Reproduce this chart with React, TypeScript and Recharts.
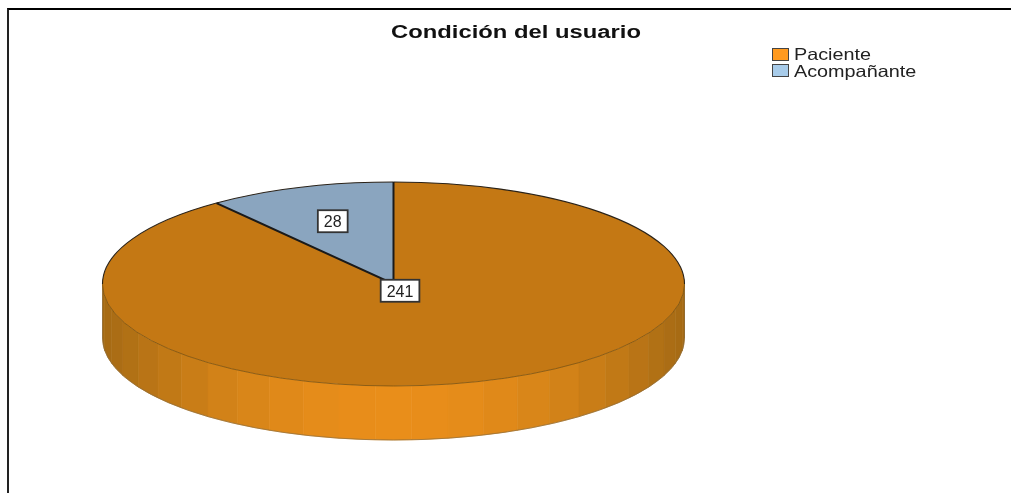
import React from 'react';
import { PieChart, Pie, Legend } from 'recharts';

const categories = ['Paciente', 'Acompañante'];
const counts = [241, 28];
const chartTitle = 'Condición del usuario';

const topColors = ['#C47814', '#8AA5BF'];
const legendColors = ['#FF9A1F', '#A8CCEA'];
// how far along the radius each value box sits
const labelOffsets = [0.07, 0.65];

const chartData = categories.map((name, i) => ({ name, value: counts[i], fill: topColors[i] }));

const RX = 291;
const RY = 102;
const DEPTH = 54;
const FACET = 7.2;
const RAD = Math.PI / 180;

function wallColor(deg: number) {
  // brightest at the front, darker towards the two sides
  const t = Math.cos(deg * RAD) ** 2;
  const r = Math.round(233 - t * 68);
  const g = Math.round(142 - t * 36);
  const b = Math.round(26 - t * 6);
  return `rgb(${r},${g},${b})`;
}

function Slice(props: any) {
  const { cx, cy, startAngle, endAngle, index } = props;
  const lo = Math.min(startAngle, endAngle);
  const hi = Math.max(startAngle, endAngle);
  const pt = (deg: number, dy = 0) => [cx + RX * Math.cos(deg * RAD), cy - RY * Math.sin(deg * RAD) + dy];

  const arc = (from: number, to: number, dy: number, sweep: number) => {
    const [x, y] = pt(to, dy);
    return `A${RX},${RY} 0 ${Math.abs(to - from) > 180 ? 1 : 0} ${sweep} ${x},${y}`;
  };

  // side wall is only visible on the lower half of the ellipse (-180..0)
  const facets = [];
  const wallFrom = Math.max(lo, -180);
  const wallTo = Math.min(hi, 0);
  for (let a = -180; a < 0; a += FACET) {
    const from = Math.max(a, wallFrom);
    const to = Math.min(a + FACET, wallTo);
    if (to <= from) continue;
    const [x0, y0] = pt(from);
    const [x1, y1] = pt(to, DEPTH);
    const color = wallColor((from + to) / 2);
    facets.push(
      <path
        key={a}
        d={`M${x0},${y0} ${arc(from, to, 0, 0)} L${x1},${y1} ${arc(to, from, DEPTH, 1)} Z`}
        fill={color}
        stroke={color}
        strokeWidth={0.6}
      />
    );
  }

  const [sx, sy] = pt(hi);
  const [ex, ey] = pt(lo);
  const top = `M${cx},${cy} L${sx},${sy} ${arc(hi, lo, 0, 1)} Z`;
  const isSmall = index === 1;

  // rim of the top face: dark along the back, soft along the front
  const rim = [];
  const parts = [
    [Math.max(lo, 0), hi, '#2a2218', 1.1],
    [wallFrom, wallTo, '#7a5210', 0.8],
    [lo, Math.min(hi, -180), '#2a2218', 1.1],
  ];
  for (const [from, to, color, width] of parts as [number, number, string, number][]) {
    if (to <= from) continue;
    const [px, py] = pt(to);
    rim.push(
      <path key={from} d={`M${px},${py} ${arc(to, from, 0, 1)}`} fill="none" stroke={color} strokeWidth={width} />
    );
  }

  let wallEdge = null;
  if (wallTo > wallFrom) {
    const [ax, ay] = pt(wallFrom);
    const [bx, by] = pt(wallTo);
    wallEdge = (
      <path
        d={`M${ax},${ay} L${ax},${ay + DEPTH} ${arc(wallFrom, wallTo, DEPTH, 0)} L${bx},${by}`}
        fill="none"
        stroke="#8a6a3a"
        strokeWidth={0.7}
      />
    );
  }

  return (
    <g>
      {facets}
      {wallEdge}
      <path d={top} fill={topColors[index]} stroke="none" />
      {rim}
      {isSmall && (
        <path d={`M${sx},${sy} L${cx},${cy} L${ex},${ey}`} fill="none" stroke="#1a1a1a" strokeWidth={2} />
      )}
    </g>
  );
}

function ValueBox(props: any) {
  const { cx, cy, midAngle, index, value } = props;
  const r = labelOffsets[index];
  const x = cx + RX * r * Math.cos(midAngle * RAD);
  const y = cy - RY * r * Math.sin(midAngle * RAD);
  const w = String(value).length * 8.9 + 12;
  return (
    <g>
      <rect x={x - w / 2} y={y - 11} width={w} height={22} fill="#fff" stroke="#333" strokeWidth={1.8} />
      <text x={x} y={y + 6} textAnchor="middle" fontSize={16} fontFamily="Liberation Sans" fill="#222">
        {value}
      </text>
    </g>
  );
}

function LegendBlock() {
  return (
    <div style={{ fontFamily: 'Liberation Sans', fontSize: 16.5, lineHeight: '16px', color: '#222' }}>
      {categories.map((name, i) => (
        <div key={name} style={{ display: 'flex', alignItems: 'center', height: 16.5 }}>
          <span
            style={{
              width: 15,
              height: 11,
              marginRight: 5,
              background: legendColors[i],
              border: '1.5px solid #444',
              display: 'inline-block',
            }}
          />
          <span style={{ display: 'inline-block', transform: 'scaleX(1.2)', transformOrigin: 'left center' }}>{name}</span>
        </div>
      ))}
    </div>
  );
}

export default function App() {
  return (
    <div
      style={{
        position: 'fixed',
        left: 0,
        top: 0,
        width: 1011,
        height: 493,
        background: '#fff',
        filter: 'blur(0.4px)',
      }}
    >
      <div
        style={{
          position: 'absolute',
          left: 7,
          top: 8,
          width: 1004,
          height: 485,
          boxSizing: 'border-box',
          borderTop: '2px solid #000',
          borderLeft: '2px solid #222',
        }}
      />
      <PieChart width={1011} height={493} margin={{ top: 0, right: 0, bottom: 0, left: 0 }}>
        <text
          x={516}
          y={38}
          textAnchor="middle"
          fontFamily="Liberation Sans"
          fontWeight="bold"
          fontSize={18}
          textLength={250}
          lengthAdjust="spacingAndGlyphs"
          fill="#111"
        >
          {chartTitle}
        </text>
        <Pie
          data={chartData}
          dataKey="value"
          nameKey="name"
          cx={393.5}
          cy={284}
          innerRadius={0}
          outerRadius={RX}
          startAngle={90}
          endAngle={-270}
          stroke="none"
          shape={Slice}
          label={ValueBox}
          labelLine={false}
          isAnimationActive={false}
        />
        <Legend
          content={LegendBlock}
          layout="vertical"
          verticalAlign="top"
          align="right"
          wrapperStyle={{ left: 772, right: 'auto', top: 46, width: 170 }}
        />
      </PieChart>
    </div>
  );
}
